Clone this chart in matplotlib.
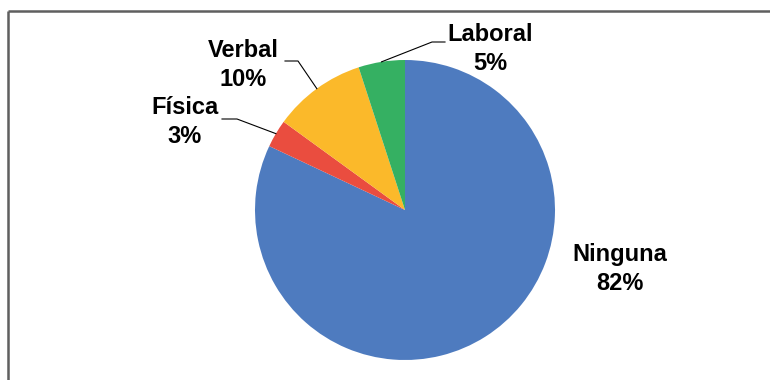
import matplotlib.pyplot as plt
import numpy as np

plt.rcParams['font.family'] = ['Liberation Sans', 'DejaVu Sans']

# datos del gráfico
categorias = ['Ninguna', 'Física', 'Verbal', 'Laboral']
porcentajes = [82, 3, 10, 5]
colores = ['#4E7BBF', '#EA4D3F', '#FBB92A', '#35B062']

W, H = 770, 380
fig = plt.figure(figsize=(W / 100, H / 100), dpi=100)
ax = fig.add_axes([0, 0, 1, 1])

cx, cy, r = 405, H - 210, 150
wedges, _ = ax.pie(porcentajes, colors=colores, startangle=90, counterclock=False,
                   center=(cx, cy), radius=r)

ax.set_xlim(0, W)
ax.set_ylim(0, H)
ax.set_aspect('equal')
ax.axis('off')

# marco (solo arriba e izquierda)
ax.plot([7.5, W], [H - 10.5, H - 10.5], color='#5F5F5F', lw=1.8, solid_capstyle='butt')
ax.plot([7.5, 7.5], [H - 10.5, 0], color='#5F5F5F', lw=1.8, solid_capstyle='butt')

# posición de las etiquetas y del codo de la línea guía (px)
etiquetas = {
    'Ninguna': ((620, 269), None),
    'Física': ((185, 122), [(222, 119), (237, 119)]),
    'Verbal': ((243, 65), [(285, 61), (298, 61)]),
    'Laboral': ((490, 49), [(445, 42), (432, 42)]),
}

for w, nombre, p in zip(wedges, categorias, porcentajes):
    (tx, ty), guia = etiquetas[nombre]
    ax.text(tx, H - ty, f'{nombre}\n{p}%', ha='center', va='center',
            fontsize=17, fontweight='bold', linespacing=1.3)
    if guia:
        ang = np.deg2rad((w.theta1 + w.theta2) / 2)
        px, py = cx + r * np.cos(ang), cy + r * np.sin(ang)
        xs = [g[0] for g in guia] + [px]
        ys = [H - g[1] for g in guia] + [py]
        ax.plot(xs, ys, color='black', lw=0.8)

fig.savefig('out.png', dpi=100, facecolor='white')
